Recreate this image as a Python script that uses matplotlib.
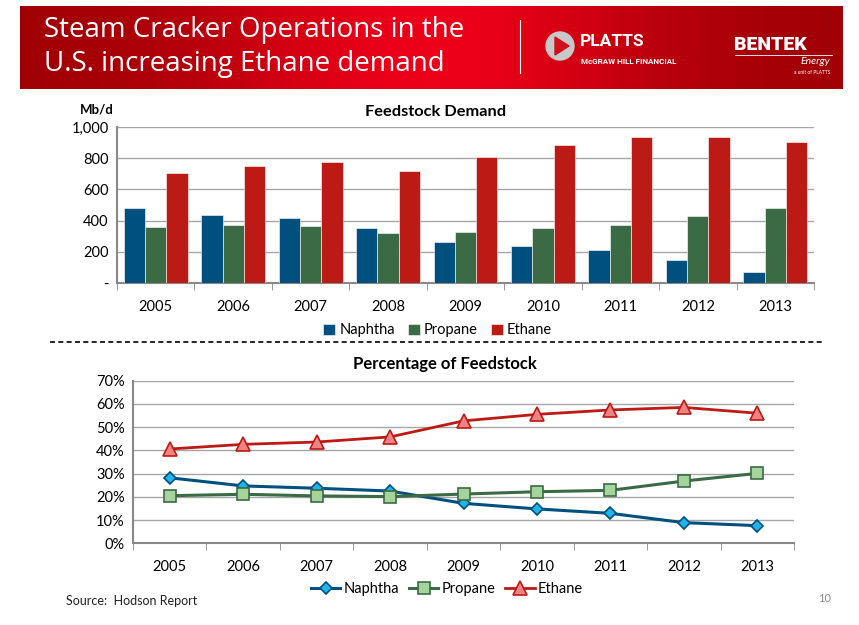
import numpy as np
import matplotlib
matplotlib.use("Agg")
import matplotlib.pyplot as plt
from matplotlib.patches import Circle, Polygon

plt.rcParams['font.family'] = ['Lato', 'DejaVu Sans']

years = ['2005', '2006', '2007', '2008', '2009', '2010', '2011', '2012', '2013']
naphtha_mbd = [483, 436, 419, 353, 265, 235, 212, 145, 70]
propane_mbd = [357, 372, 367, 318, 327, 355, 372, 427, 483]
ethane_mbd = [705, 750, 778, 720, 805, 887, 936, 936, 904]

naphtha_pct = [28.2, 24.7, 23.7, 22.5, 17.2, 14.8, 12.9, 8.9, 7.6]
propane_pct = [20.5, 21.1, 20.4, 20.1, 21.2, 22.2, 22.8, 26.8, 30.1]
ethane_pct = [40.6, 42.6, 43.6, 45.8, 52.7, 55.5, 57.4, 58.5, 56.0]

bar_ticks = [0, 200, 400, 600, 800, 1000]
bar_tick_labels = ['-', '200', '400', '600', '800', '1,000']
pct_ticks = [0, 10, 20, 30, 40, 50, 60, 70]

C_N, C_P, C_E = '#00507F', '#3B6B45', '#BC1A14'
W, H = 859, 625
LS = 10.5
fig = plt.figure(figsize=(W / 100, H / 100), dpi=100)

# background / banner layer
bg = fig.add_axes([0, 0, 1, 1])
bg.set_xlim(0, W)
bg.set_ylim(H, 0)
bg.axis('off')
x = np.linspace(-1, 1, 400)
prof = np.exp(-(x / 0.55) ** 2)
c_edge = np.array([0.62, 0.0, 0.02])
c_mid = np.array([0.93, 0.0, 0.10])
grad = c_edge[None, :] + (c_mid - c_edge)[None, :] * prof[:, None]
grad = np.tile(grad[None, :, :], (20, 1, 1))
bg.imshow(grad, extent=(20, 843, 89, 6), aspect='auto', zorder=0)
bg.text(44, 30, 'Steam Cracker Operations in the', color='white', fontsize=20,
        va='center', ha='left', family=['Open Sans', 'DejaVu Sans'])
bg.text(44, 64, 'U.S. increasing Ethane demand', color='white', fontsize=20,
        va='center', ha='left', family=['Open Sans', 'DejaVu Sans'])
bg.plot([520, 520], [20, 73], color='white', lw=0.8)
bg.add_patch(Circle((560, 46), 14, color='#C8C8C8', zorder=2))
bg.add_patch(Polygon([[555, 37], [555, 55], [569, 46]], closed=True, color='#D0101A', zorder=3))
bg.text(580, 42, 'PLATTS', color='white', fontsize=12.5, fontweight='bold', va='center', ha='left',
        family=['Roboto', 'DejaVu Sans'])
bg.text(581, 61, 'McGRAW HILL FINANCIAL', color='white', fontsize=5.8, fontweight='bold', va='center', ha='left',
        family=['Roboto', 'DejaVu Sans'])
bg.text(734, 45, 'BENTEK', color='white', fontsize=14, fontweight='heavy', va='center', ha='left',
        family=['Roboto', 'DejaVu Sans'])
bg.plot([735, 832], [55, 55], color='white', lw=0.6)
bg.text(830, 62, 'Energy', color='white', fontsize=7.5, style='italic', va='center', ha='right')
bg.text(830, 73, 'a unit of PLATTS', color='white', fontsize=3.5, va='center', ha='right')

# dashed separator
bg.plot([50, 822], [342, 342], color='black', lw=1.2, ls=(0, (3, 2)))
bg.text(66, 601, 'Source:  Hodson Report', fontsize=9, va='center', ha='left', color='#222222')
bg.text(818, 598, '10', fontsize=8, va='center', ha='left', color='#888888')


def style_axis(ax):
    ax.set_xlim(-0.5, len(years) - 0.5)
    ax.set_xticks(np.arange(len(years)))
    ax.set_xticklabels(years)
    ax.set_xticks(np.arange(-0.5, len(years)), minor=True)
    ax.tick_params(axis='x', which='major', length=0, pad=12, labelsize=LS)
    ax.tick_params(axis='x', which='minor', length=5, color='#888888', direction='out')
    ax.tick_params(axis='y', length=0, pad=6, labelsize=LS)
    ax.grid(axis='y', color='#A6A6A6', lw=1, zorder=0)
    for s in ['top', 'right']:
        ax.spines[s].set_visible(False)
    for s in ['left', 'bottom']:
        ax.spines[s].set_color('#888888')
        ax.spines[s].set_linewidth(1.5)


# ---------- bar chart ----------
ax1 = fig.add_axes([117 / W, (H - 283) / H, (814 - 117) / W, (283 - 127) / H])
xi = np.arange(len(years))
bw = 0.275
ax1.bar(xi - bw, naphtha_mbd, bw, color=C_N, edgecolor='white', linewidth=0.4, label='Naphtha', zorder=3)
ax1.bar(xi, propane_mbd, bw, color=C_P, edgecolor='white', linewidth=0.4, label='Propane', zorder=3)
ax1.bar(xi + bw, ethane_mbd, bw, color=C_E, edgecolor='white', linewidth=0.4, label='Ethane', zorder=3)
ax1.set_ylim(0, 1000)
ax1.set_yticks(bar_ticks)
ax1.set_yticklabels(bar_tick_labels)
style_axis(ax1)
fig.text(436 / W, 1 - 112 / H, 'Feedstock Demand', fontsize=11.8, fontweight='bold', ha='center', va='center')
fig.text(97 / W, 1 - 110 / H, 'Mb/d', fontsize=9.5, fontweight='bold', ha='center', va='center')
ax1.legend(loc='upper center', bbox_to_anchor=(0.46, -0.175), ncol=3, frameon=False,
           fontsize=LS, handlelength=0.8, handleheight=0.8, handletextpad=0.3, columnspacing=0.9)

# ---------- line chart ----------
ax2 = fig.add_axes([133 / W, (H - 543.3) / H, (794 - 133) / W, (543.3 - 380.7) / H])
ax2.plot(xi, naphtha_pct, color=C_N, lw=2.2, marker='D', ms=6.5, mfc='#1FB5EA', mec=C_N, mew=1.2,
         label='Naphtha', zorder=3)
ax2.plot(xi, propane_pct, color=C_P, lw=2.2, marker='s', ms=9, mfc='#A6D29C', mec=C_P, mew=1.2,
         label='Propane', zorder=3)
ax2.plot(xi, ethane_pct, color=C_E, lw=2.0, marker='^', ms=10, mfc='#F08484', mec=C_E, mew=1.2,
         label='Ethane', zorder=3)
ax2.set_ylim(0, 70)
ax2.set_yticks(pct_ticks)
ax2.set_yticklabels([f'{t}%' for t in pct_ticks])
style_axis(ax2)
fig.text(445 / W, 1 - 364 / H, 'Percentage of Feedstock', fontsize=12, fontweight='bold', ha='center', va='center')
ax2.legend(loc='upper center', bbox_to_anchor=(0.475, -0.16), ncol=3, frameon=False,
           fontsize=LS, handlelength=2.0, handletextpad=0.2, columnspacing=0.7)

fig.savefig('out.png', dpi=100)
